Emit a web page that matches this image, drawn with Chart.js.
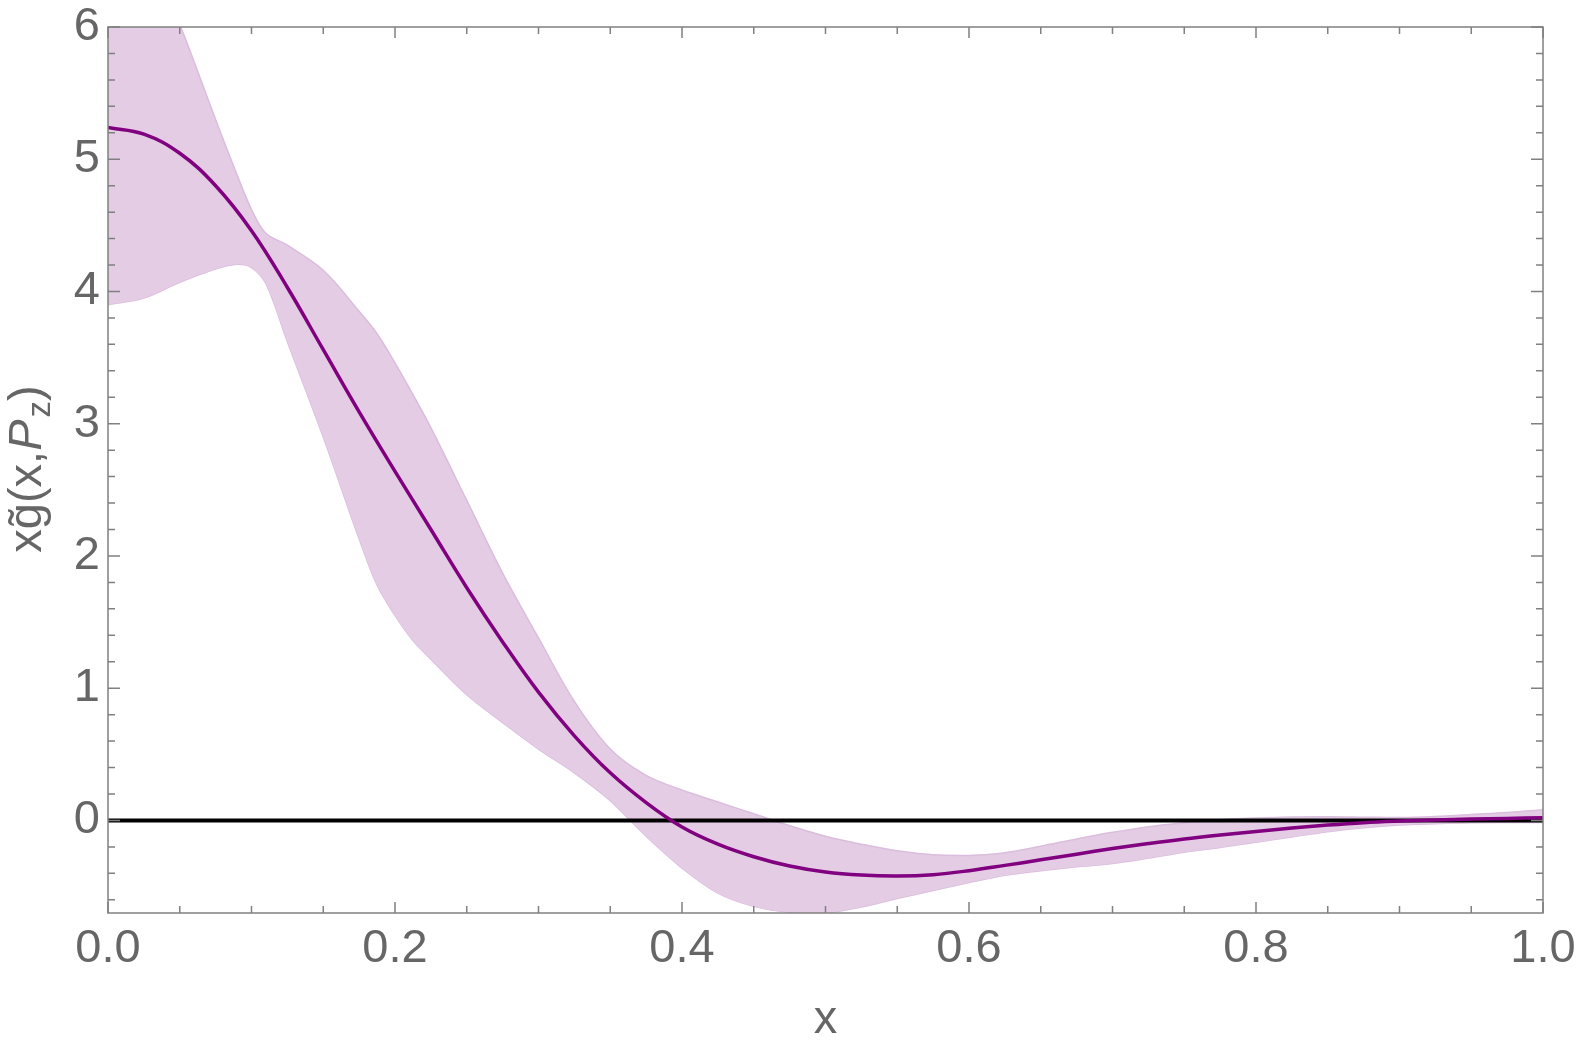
<!DOCTYPE html>
<html>
<head>
<meta charset="utf-8">
<script src="https://cdn.jsdelivr.net/npm/chart.js@4.4.0/dist/chart.umd.min.js"></script>
<style>
  html, body { margin: 0; padding: 0; background: #fff; }
  #wrap { width: 1578px; height: 1047px; }
</style>
</head>
<body>
<div id="wrap"><canvas id="chart" width="1578" height="1047"></canvas></div>
<script>
// values
const xCentral = [0, 0.025, 0.05, 0.075, 0.1, 0.125, 0.15, 0.175, 0.2, 0.225, 0.25, 0.275, 0.3, 0.325,
  0.35, 0.375, 0.4, 0.425, 0.45, 0.475, 0.5, 0.525, 0.55, 0.575, 0.6, 0.625, 0.65, 0.675, 0.7, 0.725,
  0.75, 0.775, 0.8, 0.825, 0.85, 0.875, 0.9, 0.925, 0.95, 0.975, 1.0]
const central = [5.24, 5.19, 5.045, 4.8, 4.46, 4.03, 3.56, 3.09, 2.64, 2.2, 1.76, 1.35, 0.97, 0.64,
  0.36, 0.135, -0.05, -0.18, -0.275, -0.345, -0.39, -0.413, -0.42, -0.41, -0.38, -0.34, -0.298, -0.255, -0.213, -0.175,
  -0.14, -0.11, -0.083, -0.057, -0.035, -0.017, -0.005, 0.004, 0.01, 0.015, 0.02]

const xBand = [0, 0.025, 0.05, 0.075, 0.09, 0.1, 0.11, 0.125, 0.15, 0.175, 0.1875, 0.2, 0.2125, 0.225, 0.25, 0.275, 0.3,
  0.325, 0.35, 0.375, 0.4, 0.425, 0.45, 0.475, 0.5, 0.525, 0.55, 0.575, 0.6, 0.625, 0.65, 0.675, 0.7, 0.725,
  0.75, 0.775, 0.8, 0.825, 0.85, 0.875, 0.9, 0.925, 0.95, 0.975, 1.0]
const upper = [7.3, 6.65, 6.02, 5.3, 4.88, 4.62, 4.44, 4.35, 4.16, 3.85, 3.68, 3.46, 3.22, 2.97, 2.42, 1.87, 1.38,
  0.9, 0.54, 0.34, 0.23, 0.14, 0.05, -0.04, -0.12, -0.18, -0.23, -0.26, -0.265, -0.245, -0.195, -0.14, -0.09, -0.047,
  -0.018, 0.005, 0.018, 0.026, 0.028, 0.025, 0.022, 0.03, 0.045, 0.06, 0.08]
const lower = [3.9, 3.95, 4.07, 4.17, 4.205, 4.18, 4.06, 3.62, 2.9, 2.13, 1.78, 1.55, 1.36, 1.22, 0.95, 0.74, 0.54,
  0.36, 0.15, -0.12, -0.36, -0.55, -0.65, -0.695, -0.7, -0.655, -0.59, -0.53, -0.47, -0.415, -0.38, -0.35, -0.325, -0.285,
  -0.24, -0.205, -0.165, -0.125, -0.085, -0.055, -0.035, -0.025, -0.018, -0.016, -0.015]

const xTicks = [0, 0.2, 0.4, 0.6, 0.8, 1.0]
const xMinorTicks = [0.05, 0.1, 0.15, 0.25, 0.3, 0.35, 0.45, 0.5, 0.55, 0.65, 0.7, 0.75, 0.85, 0.9, 0.95]
const yTicks = [0, 1, 2, 3, 4, 5, 6]
const yMinorTicks = [-0.6, -0.4, -0.2, 0.2, 0.4, 0.6, 0.8, 1.2, 1.4, 1.6, 1.8, 2.2, 2.4, 2.6, 2.8,
  3.2, 3.4, 3.6, 3.8, 4.2, 4.4, 4.6, 4.8, 5.2, 5.4, 5.6, 5.8]

const FONT = '"Liberation Sans", Arial, sans-serif'
const TEXT = '#666666'
const FRAME = '#808080'

const pts = (xv, ys) => xv.map((x, i) => ({ x, y: ys[i] }))

// no extra padding from the tick labels, chart area comes from layout.padding only
const noPad = (s) => { s.paddingTop = 0; s.paddingBottom = 0; s.paddingLeft = 0; s.paddingRight = 0 }

const framePlugin = {
  id: 'frame',
  afterDraw (chart) {
    const { ctx, chartArea: a, scales } = chart
    const sx = scales.x
    const sy = scales.y
    ctx.save()
    ctx.strokeStyle = FRAME
    ctx.lineWidth = 1.5
    ctx.strokeRect(a.left, a.top, a.right - a.left, a.bottom - a.top)

    ctx.beginPath()
    const tickX = (v, len) => {
      const px = sx.getPixelForValue(v)
      ctx.moveTo(px, a.bottom); ctx.lineTo(px, a.bottom - len)
      ctx.moveTo(px, a.top); ctx.lineTo(px, a.top + len)
    }
    const tickY = (v, len) => {
      const py = sy.getPixelForValue(v)
      ctx.moveTo(a.left, py); ctx.lineTo(a.left + len, py)
      ctx.moveTo(a.right, py); ctx.lineTo(a.right - len, py)
    }
    xTicks.forEach(v => tickX(v, 11))
    xMinorTicks.forEach(v => tickX(v, 7))
    yTicks.forEach(v => tickY(v, 12))
    yMinorTicks.forEach(v => tickY(v, 7))
    ctx.stroke()

    // x title
    ctx.fillStyle = TEXT
    ctx.font = `47px ${FONT}`
    ctx.textAlign = 'center'
    ctx.textBaseline = 'alphabetic'
    ctx.fillText('x', (a.left + a.right) / 2, 1033)

    // y title, rotated, with italic P and subscript z
    const runs = [
      { t: 'xg\u0303(x,', f: `47px ${FONT}`, dy: 0 },
      { t: 'P', f: `italic 47px ${FONT}`, dy: 0 },
      { t: 'z', f: `33px ${FONT}`, dy: 9 },
      { t: ')', f: `47px ${FONT}`, dy: 0 },
    ]
    ctx.translate(41, (a.top + a.bottom) / 2)
    ctx.rotate(-Math.PI / 2)
    ctx.textAlign = 'left'
    let total = 0
    runs.forEach(r => { ctx.font = r.f; r.w = ctx.measureText(r.t).width; total += r.w })
    let cx = -total / 2
    runs.forEach(r => {
      ctx.font = r.f
      ctx.fillText(r.t, cx, r.dy)
      cx += r.w + (r.t === 'P' ? 2 : 0)
    })
    ctx.restore()
  },
}

new Chart(document.getElementById('chart'), {
  type: 'line',
  data: {
    datasets: [
      { data: pts(xCentral, central), borderColor: '#800080', borderWidth: 3.5, pointRadius: 0, fill: false, tension: 0.4 },
      { data: [{ x: 0, y: 0 }, { x: 1, y: 0 }], borderColor: '#000000', borderWidth: 4, pointRadius: 0, fill: false },
      { data: pts(xBand, upper), borderColor: '#dbbddd', borderWidth: 1.5, pointRadius: 0, fill: '+1', backgroundColor: '#e3cce4', tension: 0.35 },
      { data: pts(xBand, lower), borderColor: '#dbbddd', borderWidth: 1.5, pointRadius: 0, fill: false, tension: 0.35 },
    ],
  },
  options: {
    responsive: false,
    animation: false,
    layout: { padding: { top: 27, right: 35, left: 0, bottom: 0 } },
    plugins: { legend: { display: false }, tooltip: { enabled: false } },
    scales: {
      x: {
        type: 'linear',
        min: 0,
        max: 1,
        afterBuildTicks: (s) => { s.ticks = xTicks.map(value => ({ value })) },
        afterFit: (s) => { s.height = 134; noPad(s) },
        grid: { display: false, drawTicks: false },
        border: { display: false },
        ticks: { padding: 8, color: TEXT, font: { family: FONT, size: 47 }, maxRotation: 0, autoSkip: false, callback: (v) => v.toFixed(1) },
      },
      y: {
        type: 'linear',
        min: -0.7,
        max: 6,
        afterBuildTicks: (s) => { s.ticks = yTicks.map(value => ({ value })) },
        afterFit: (s) => { s.width = 108; noPad(s) },
        grid: { display: false, drawTicks: false },
        border: { display: false },
        ticks: { padding: 8, color: TEXT, font: { family: FONT, size: 47 }, autoSkip: false, callback: (v) => String(v) },
      },
    },
  },
  plugins: [framePlugin],
})
</script>
</body>
</html>
